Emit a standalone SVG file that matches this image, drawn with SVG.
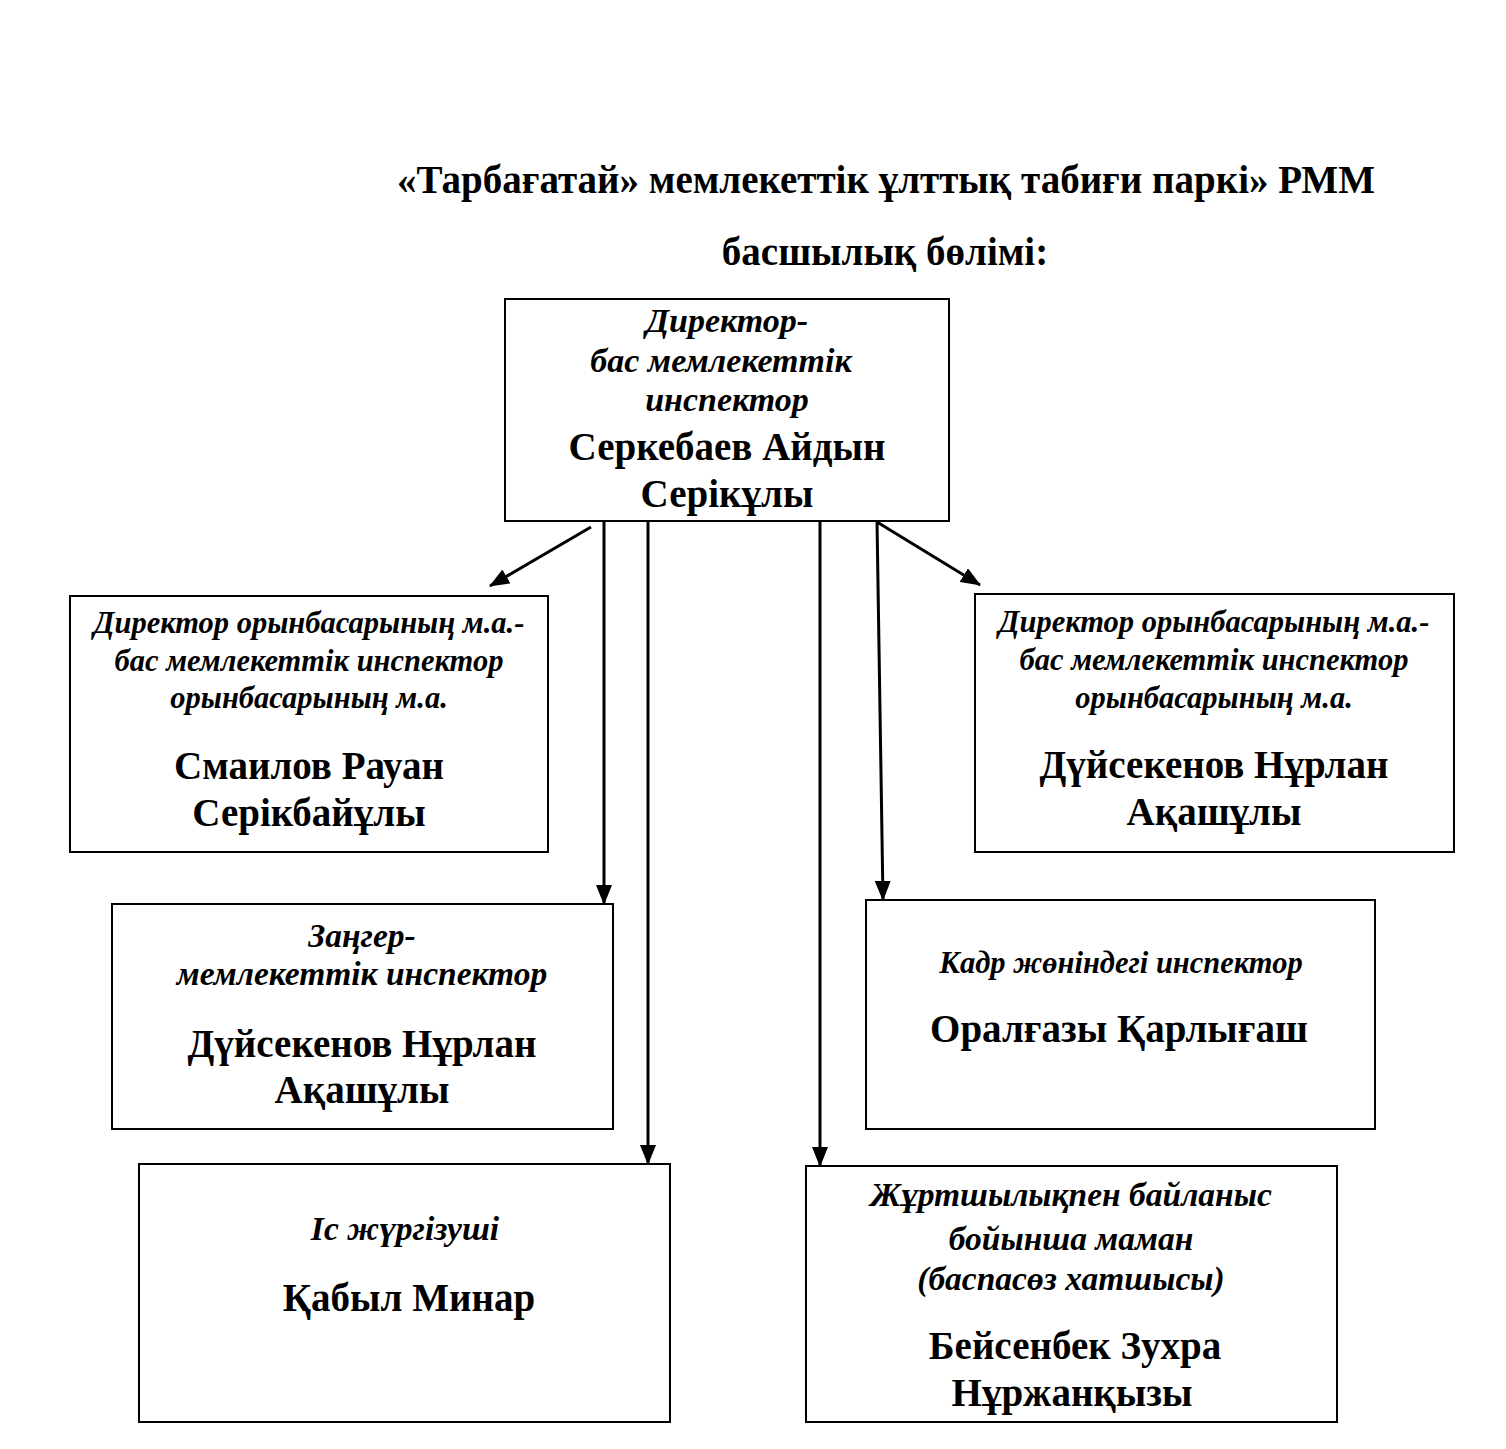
<svg xmlns="http://www.w3.org/2000/svg" width="1506" height="1449" viewBox="0 0 1506 1449">
<style>
.box{fill:#fff;stroke:#000;stroke-width:2}
.t{font-family:"Liberation Serif","Times New Roman",serif;font-weight:bold;text-anchor:middle;fill:#000}
.i{font-style:italic}
.n{font-size:39px}
.c{stroke:#000;stroke-width:3;fill:none;marker-end:url(#ah)}
</style>
<defs>
<marker id="ah" markerUnits="userSpaceOnUse" markerWidth="20" markerHeight="16" refX="19" refY="8" orient="auto">
<path d="M0,0 L20,8 L0,16 Z" fill="#000"/>
</marker>
</defs>
<rect width="1506" height="1449" fill="#fff"/>
<g id="title">
<text class="t" x="886" y="193" font-size="39">«Тарбағатай» мемлекеттік ұлттық табиғи паркі» РММ</text>
<text class="t" x="885" y="265" font-size="39">басшылық бөлімі:</text>
</g>
<g id="director">
<rect class="box" x="505" y="299" width="444" height="222"/>
<text class="t i" x="727" y="332" font-size="34">Директор-</text>
<text class="t i" x="721" y="372" font-size="34">бас мемлекеттік</text>
<text class="t i" x="727" y="411" font-size="34">инспектор</text>
<text class="t n" x="727" y="460">Серкебаев Айдын</text>
<text class="t n" x="727" y="507">Серікұлы</text>
</g>
<g id="deputy1">
<rect class="box" x="70" y="596" width="478" height="256"/>
<text class="t i" x="309" y="633" font-size="30.5">Директор орынбасарының м.а.-</text>
<text class="t i" x="309" y="671" font-size="30.5">бас мемлекеттік инспектор</text>
<text class="t i" x="309" y="708" font-size="30.5">орынбасарының м.а.</text>
<text class="t n" x="309" y="779">Смаилов Рауан</text>
<text class="t n" x="309" y="826">Серікбайұлы</text>
</g>
<g id="deputy2">
<rect class="box" x="975" y="594" width="479" height="258"/>
<text class="t i" x="1214" y="632" font-size="30.5">Директор орынбасарының м.а.-</text>
<text class="t i" x="1214" y="670" font-size="30.5">бас мемлекеттік инспектор</text>
<text class="t i" x="1214" y="708" font-size="30.5">орынбасарының м.а.</text>
<text class="t n" x="1214" y="778">Дүйсекенов Нұрлан</text>
<text class="t n" x="1214" y="825">Ақашұлы</text>
</g>
<g id="lawyer">
<rect class="box" x="112" y="904" width="501" height="225"/>
<text class="t i" x="362" y="947" font-size="33.5">Заңгер-</text>
<text class="t i" x="362" y="985" font-size="33.5">мемлекеттік инспектор</text>
<text class="t n" x="362" y="1057">Дүйсекенов Нұрлан</text>
<text class="t n" x="362" y="1103">Ақашұлы</text>
</g>
<g id="hr">
<rect class="box" x="866" y="900" width="509" height="229"/>
<text class="t i" x="1121" y="973" font-size="30.5">Кадр жөніндегі инспектор</text>
<text class="t n" x="1119" y="1042">Оралғазы Қарлығаш</text>
</g>
<g id="clerk">
<rect class="box" x="139" y="1164" width="531" height="258"/>
<text class="t i" x="405" y="1240" font-size="33.5">Іс жүргізуші</text>
<text class="t n" x="409" y="1311">Қабыл Минар</text>
</g>
<g id="press">
<rect class="box" x="806" y="1166" width="531" height="256"/>
<text class="t i" x="1071" y="1206" font-size="33.5">Жұртшылықпен байланыс</text>
<text class="t i" x="1071" y="1250" font-size="33.5">бойынша маман</text>
<text class="t i" x="1071" y="1290" font-size="33.5">(баспасөз хатшысы)</text>
<text class="t n" x="1075" y="1359">Бейсенбек Зухра</text>
<text class="t n" x="1072" y="1406">Нұржанқызы</text>
</g>
<g id="connectors">
<line class="c" x1="591" y1="527" x2="490" y2="586"/>
<line class="c" x1="877" y1="522" x2="980" y2="585"/>
<line class="c" x1="604" y1="521" x2="604" y2="904"/>
<line class="c" x1="648" y1="521" x2="648" y2="1164"/>
<line class="c" x1="820" y1="521" x2="820" y2="1166"/>
<line class="c" x1="877" y1="521" x2="883" y2="900"/>
</g>
</svg>
